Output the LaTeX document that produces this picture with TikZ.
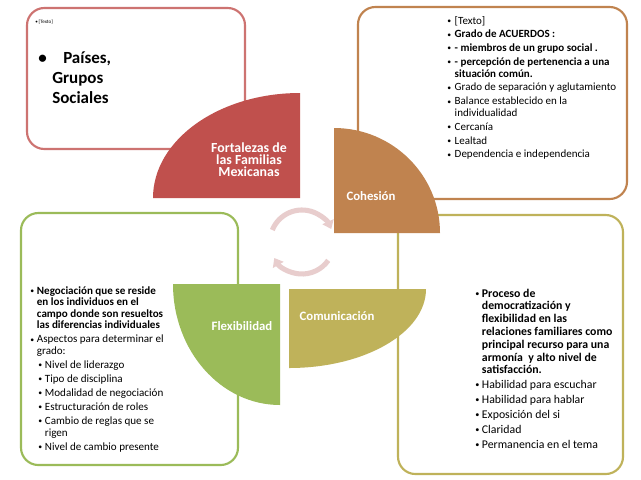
\documentclass[tikz,border=0pt]{standalone}
\usepackage{fontspec}
\setmainfont{Carlito}
\usetikzlibrary{arrows.meta}
\definecolor{redc}{HTML}{C0504D}
\definecolor{brownc}{HTML}{C0834F}
\definecolor{olivec}{HTML}{BFB25A}
\definecolor{greenc}{HTML}{9BBB59}
\definecolor{arrowc}{HTML}{E8CDCD}
\newcommand\smb{\raisebox{0.15ex}{\scalebox{0.7}{\textbullet}}}
\newcommand\bu{\makebox[5.6pt][l]{\smb}}
\newcommand\ind{\hspace*{5.6pt}}
\newcommand\bub{\makebox[5pt][l]{\smb}}
\newcommand\indb{\hspace*{5pt}}
\begin{document}
\begin{tikzpicture}[x=0.75pt,y=-0.75pt,
  box/.style={line width=1.6pt, rounded corners=13pt, fill=white},
  lab/.style={text=white, font=\fontsize{9.6}{11}\selectfont\bfseries, inner sep=0},
  txt/.style={anchor=base west, inner sep=0, text=black},
  circarrow/.style={draw=arrowc, line width=3.8pt, -{Triangle[width=9pt,length=6pt]}}]
\fill[white] (0,0) rectangle (641,479);
\useasboundingbox (0,0) rectangle (641,479);
% text boxes
\draw[box, draw=redc!80] (27,8) rectangle (245,149);
\draw[box, draw=brownc] (358,7) rectangle (627,199);
\draw[box, draw=greenc] (21,213) rectangle (238,465);
\draw[box, draw=olivec] (398,215) rectangle (623,474);
% quarter shapes
\fill[redc] (300,198) -- (153,198) arc[start angle=180,end angle=270,x radius=147,y radius=105] -- cycle;
\fill[brownc] (334,233) -- (334,128) arc[start angle=270,end angle=360,x radius=106,y radius=105] -- cycle;
\fill[olivec] (289,289) -- (426,289) arc[start angle=0,end angle=90,x radius=137,y radius=79] -- cycle;
\fill[greenc] (280,284) -- (280,405) arc[start angle=90,end angle=180,x radius=107,y radius=121] -- cycle;
% circular arrows
\draw[circarrow] (302,242) ++(-158:32) arc[start angle=-158,end angle=-24,radius=32];
\draw[circarrow] (302,242) ++(35:32) arc[start angle=35,end angle=150,radius=32];
% labels
\node[lab] (coh) at (371,196) {Cohesión};
\node[lab] (com) at (337,316) {Comunicación};
\node[lab] (flex) at (242,326) {Flexibilidad};
\node[anchor=base, inner sep=0, text=white] (title) at (249,152) {\begin{minipage}[t]{110pt}\centering\fontsize{10.4}{9.2}\selectfont\lineskiplimit=-6pt\bfseries Fortalezas de\\ las Familias\\ Mexicanas\end{minipage}};
% top-left text
\node[txt] (tlsmall) at (35,23) {\fontsize{3.8}{4}\selectfont\makebox[2.6pt][l]{\textbullet}[Texto]};
\node[txt] (tlbig) at (38,63) {\begin{minipage}[t]{150pt}\fontsize{12.75}{15}\selectfont\bfseries
\makebox[18.75pt][l]{\textbullet}Países,\\
\hspace*{10.5pt}Grupos\\
\hspace*{10.5pt}Sociales\end{minipage}};
% top-right text
\node[txt] (trtext) at (447,24) {\begin{minipage}[t]{200pt}\raggedright\fontsize{8.25}{8.6}\selectfont
\bu [Texto]\\[1.8pt]
\bu\textbf{Grado de ACUERDOS :}\\[1.8pt]
\bu\textbf{- miembros de un grupo social .}\\[1.8pt]
\bu\textbf{- percepción de pertenencia a una}\\
\ind\textbf{situación común.}\\[1.8pt]
\bu Grado de separación y aglutamiento\\[1.8pt]
\bu Balance establecido en la\\
\ind individualidad\\[1.8pt]
\bu Cercanía\\[1.8pt]
\bu Lealtad\\[1.8pt]
\bu Dependencia e independencia\end{minipage}};
% bottom-left text
\node[txt] (bltext) at (30,294) {\begin{minipage}[t]{200pt}\raggedright\fontsize{8.3}{8.7}\selectfont
\bub\textbf{Negociación que se reside}\\
\indb\textbf{en los individuos en el}\\
\indb\textbf{campo donde son resueltos}\\
\indb\textbf{las diferencias individuales}\\[1.8pt]
\bub Aspectos para determinar el\\
\indb grado:\\[1.8pt]
\hspace*{6pt}\bub Nivel de liderazgo\\[1.8pt]
\hspace*{6pt}\bub Tipo de disciplina\\[1.8pt]
\hspace*{6pt}\bub Modalidad de negociación\\[1.8pt]
\hspace*{6pt}\bub Estructuración de roles\\[1.8pt]
\hspace*{6pt}\bub Cambio de reglas que se\\
\hspace*{6pt}\indb rigen\\[1.8pt]
\hspace*{6pt}\bub Nivel de cambio presente\end{minipage}};
% bottom-right text
\node[txt] (brtext) at (475,297) {\begin{minipage}[t]{200pt}\raggedright\fontsize{8.85}{9.6}\selectfont
\bub\textbf{Proceso de}\\
\indb\textbf{democratización y}\\
\indb\textbf{flexibilidad en las}\\
\indb\textbf{relaciones familiares como}\\
\indb\textbf{principal recurso para una}\\
\indb\textbf{armonía\ \ y alto nivel de}\\
\indb\textbf{satisfacción.}\\[1.65pt]
\bub Habilidad para escuchar\\[1.65pt]
\bub Habilidad para hablar\\[1.65pt]
\bub Exposición del si\\[1.65pt]
\bub Claridad\\[1.65pt]
\bub Permanencia en el tema\end{minipage}};
\end{tikzpicture}
\end{document}
